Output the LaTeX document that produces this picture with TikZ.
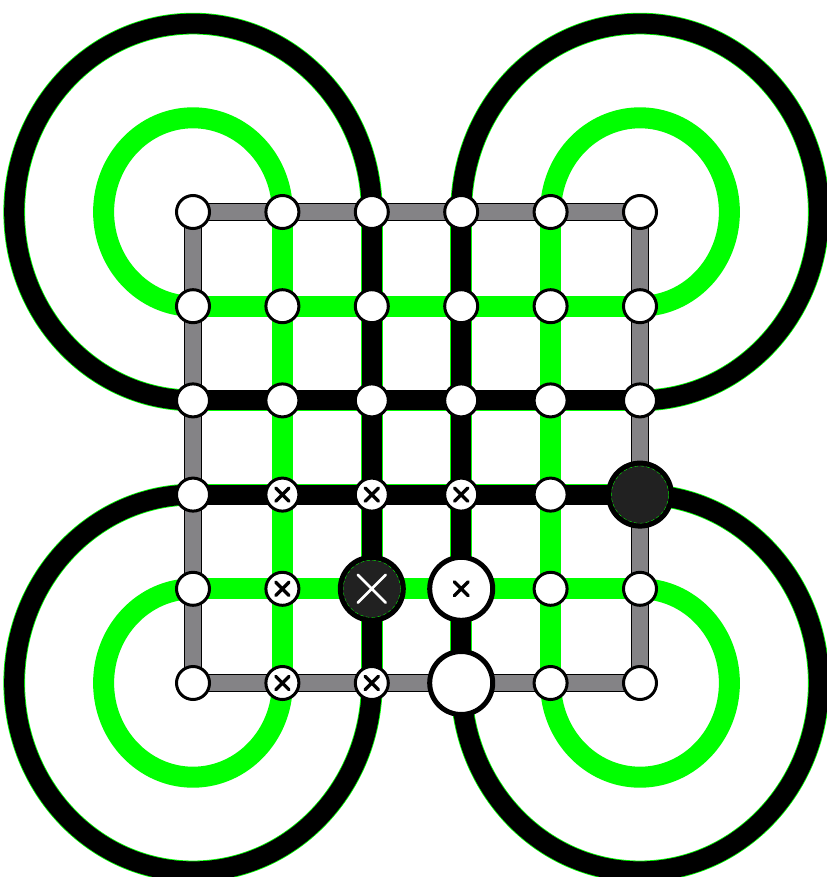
\documentclass[tikz,border=0pt]{standalone}
\usepackage{xcolor}
\usepackage{tikz}
\usetikzlibrary{backgrounds}

\definecolor{wireGreen}{RGB}{0,255,0}
\definecolor{edgeGray}{RGB}{132,131,134}
\definecolor{darkFill}{RGB}{33,33,33}

\begin{document}
\begin{tikzpicture}[
  x=2.682cm, y=2.826cm,
  dot/.style={circle, draw=black, line width=0.09cm, fill=white, minimum size=0.99cm, inner sep=0pt},
  big/.style={circle, draw=black, line width=0.15cm, fill=white, minimum size=1.89cm, inner sep=0pt},
  xsign/.style n args={3}{path picture={
    \draw[#1, line width=#2, line cap=round]
      ([shift={(-#3,-#3)}]path picture bounding box.center) -- ([shift={(#3,#3)}]path picture bounding box.center)
      ([shift={(-#3,#3)}]path picture bounding box.center) -- ([shift={(#3,-#3)}]path picture bounding box.center);}},
  xdot/.style={dot, xsign={black}{0.1cm}{0.2cm}},
  bigx/.style={big, xsign={black}{0.1cm}{0.21cm}},
  dark/.style={big, fill=darkFill, path picture={
    \draw[wireGreen, densely dashed, line width=0.4pt] (path picture bounding box.center) circle (0.86cm);}},
  darkx/.style={big, fill=darkFill, path picture={
    \draw[wireGreen, densely dashed, line width=0.4pt] (path picture bounding box.center) circle (0.86cm);
    \draw[white, line width=0.08cm, line cap=round]
      ([shift={(-0.42cm,-0.42cm)}]path picture bounding box.center) -- ([shift={(0.42cm,0.42cm)}]path picture bounding box.center)
      ([shift={(-0.42cm,0.42cm)}]path picture bounding box.center) -- ([shift={(0.42cm,-0.42cm)}]path picture bounding box.center);}},
  grayw/.style={draw=edgeGray, line width=0.48cm, preaction={draw=black, line width=0.54cm}},
  greenw/.style={draw=wireGreen, line width=0.63cm},
  blackw/.style={draw=black, line width=0.6cm, preaction={draw=wireGreen, line width=0.65cm}},
  r1/.style={x radius=2.682cm, y radius=2.826cm},
  r2/.style={x radius=5.364cm, y radius=5.652cm}
]
\useasboundingbox (-5.79cm,6.36cm) rectangle (18.99cm,-19.95cm);

% grid of junctions, row by row
\foreach \s [count=\k from 0] in {
    dot,dot,dot,dot,dot,dot,
    dot,dot,dot,dot,dot,dot,
    dot,dot,dot,dot,dot,dot,
    dot,xdot,xdot,xdot,dot,dark,
    dot,xdot,darkx,bigx,dot,dot,
    dot,xdot,xdot,big,dot,dot} {
  \pgfmathtruncatemacro\i{mod(\k,6)}
  \pgfmathtruncatemacro\j{div(\k,6)}
  \node[\s] (n\i\j) at (\i,-\j) {};
}

\begin{scope}[on background layer]
  % outer frame
  \draw[grayw] (n00.center) -- (n50.center) -- (n55.center) -- (n05.center) -- cycle;
  % inner wires
  \foreach \k in {1,4} {
    \draw[greenw] (n\k0.center) -- (n\k5.center);
    \draw[greenw] (n0\k.center) -- (n5\k.center);
  }
  \foreach \k in {2,3} {
    \draw[blackw] (n\k0.center) -- (n\k5.center);
    \draw[blackw] (n0\k.center) -- (n5\k.center);
  }
  % corner loops
  \draw[greenw] (n10.center) arc[r1, start angle=0, end angle=270];
  \draw[blackw] (n20.center) arc[r2, start angle=0, end angle=270];
  \draw[greenw] (n40.center) arc[r1, start angle=180, end angle=-90];
  \draw[blackw] (n30.center) arc[r2, start angle=180, end angle=-90];
  \draw[greenw] (n04.center) arc[r1, start angle=90, end angle=360];
  \draw[blackw] (n03.center) arc[r2, start angle=90, end angle=360];
  \draw[greenw] (n45.center) arc[r1, start angle=180, end angle=450];
  \draw[blackw] (n35.center) arc[r2, start angle=180, end angle=450];
\end{scope}
\end{tikzpicture}
\end{document}
